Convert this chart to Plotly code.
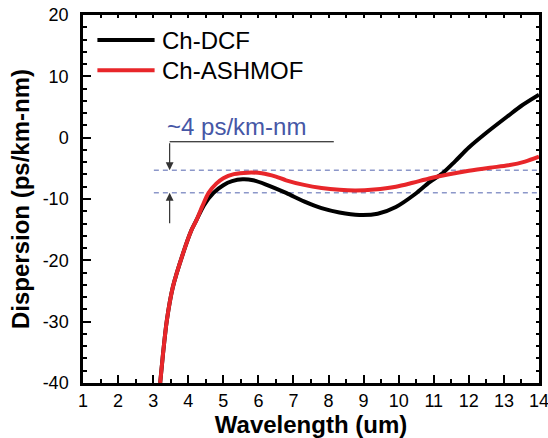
import plotly.graph_objects as go

# ---- data ----
dcf_x = [3.20, 3.28, 3.39, 3.56, 3.85, 4.09, 4.23, 4.45, 4.72, 5.0, 5.25, 5.55, 5.85, 6.2,
         6.79, 7.3, 7.8, 8.31, 8.88, 9.4, 9.92, 10.49, 10.87, 11.25, 11.6, 12.0, 12.5,
         13.13, 13.5, 14.0]
dcf_y = [-40, -35.3, -29.8, -24.4, -18.9, -15.1, -13.5, -11.0, -9.0, -7.75, -7.1, -6.8,
         -6.95, -7.6, -9.0, -10.4, -11.5, -12.2, -12.6, -12.4, -11.3, -9.1, -7.3, -5.8,
         -3.9, -1.6, 0.8, 3.6, 5.2, 7.0]

ashmof_x = [3.20, 3.28, 3.39, 3.56, 3.85, 4.09, 4.23, 4.4, 4.58, 4.8, 5.0, 5.3, 5.7, 6.1,
            6.5, 6.79, 7.3, 7.8, 8.31, 8.78, 9.3, 9.92, 10.4, 10.87, 11.4, 12.0, 12.6,
            13.13, 13.6, 14.0]
ashmof_y = [-40, -35.3, -29.8, -24.4, -18.9, -15.1, -13.5, -11.2, -9.0, -7.5, -6.6, -5.95,
            -5.7, -5.8, -6.35, -6.95, -7.7, -8.2, -8.5, -8.6, -8.45, -8.0, -7.35, -6.65,
            -6.0, -5.4, -4.9, -4.5, -3.9, -3.1]

series_names = ["Ch-DCF", "Ch-ASHMOF"]
band_levels = [-5.3, -9.0]          # dashed reference levels
band_x = [3.02, 14.0]
band_label = "~4 ps/km-nm"

x_ticks = list(range(1, 15))
y_ticks = [-40, -30, -20, -10, 0, 10, 20]
y_ticktext = [str(v) for v in y_ticks]

FONT = "Arial, Liberation Sans, sans-serif"
BLACK = "#000000"
RED = "#e8262a"
BLUE = "#4657a6"
DASH = "#8c97c9"

fig = go.Figure()
fig.add_trace(go.Scatter(x=dcf_x, y=dcf_y, mode="lines", name=series_names[0],
                         line=dict(color=BLACK, width=4, shape="spline", smoothing=0.8),
                         showlegend=False))
fig.add_trace(go.Scatter(x=ashmof_x, y=ashmof_y, mode="lines", name=series_names[1],
                         line=dict(color=RED, width=4, shape="spline", smoothing=0.8),
                         showlegend=False))
# helper trace for the mirrored (top/right) tick axes
fig.add_trace(go.Scatter(x=[], y=[], xaxis="x2", yaxis="y2", showlegend=False,
                         hoverinfo="skip"))

# dashed reference levels
for lv in band_levels:
    fig.add_shape(type="line", xref="x", yref="y", x0=band_x[0], x1=band_x[1], y0=lv, y1=lv,
                  line=dict(color=DASH, width=1.5, dash="5px,4px"), layer="below")

# bracket line + arrows
arrow_x = 3.47
top_y = -0.67
fig.add_shape(type="line", xref="x", yref="y", x0=arrow_x, x1=8.15, y0=top_y, y1=top_y,
              line=dict(color=BLACK, width=1))
fig.add_annotation(x=arrow_x, y=band_levels[0], ax=arrow_x, ay=top_y, xref="x", yref="y",
                   axref="x", ayref="y", text="", showarrow=True, arrowhead=2,
                   arrowsize=1.3, arrowwidth=1.2, arrowcolor="#333333", standoff=0)
fig.add_annotation(x=arrow_x, y=band_levels[1], ax=arrow_x, ay=-14.2, xref="x", yref="y",
                   axref="x", ayref="y", text="", showarrow=True, arrowhead=2,
                   arrowsize=1.3, arrowwidth=1.2, arrowcolor="#333333", standoff=0)
fig.add_annotation(x=5.37, y=1.8, xref="x", yref="y", text=band_label, showarrow=False,
                   font=dict(family=FONT, size=24, color=BLUE), xanchor="center",
                   yanchor="middle")

# manual legend
legend_rows = [(0.932, BLACK), (0.850, RED)]
for (py, col), name in zip(legend_rows, series_names):
    fig.add_shape(type="line", xref="paper", yref="paper", x0=0.0316, x1=0.157, y0=py, y1=py,
                  line=dict(color=col, width=4))
    fig.add_annotation(x=0.168, y=py, xref="paper", yref="paper", text=name,
                       showarrow=False, xanchor="left", yanchor="middle",
                       font=dict(family=FONT, size=24, color=BLACK))

axis_common = dict(showgrid=False, zeroline=False, linecolor=BLACK, linewidth=2.5,
                   ticks="inside", tickcolor=BLACK, tickwidth=2, automargin=False,
                   ticklabeloverflow="allow",
                   tickfont=dict(family=FONT, size=18, color=BLACK))

fig.update_layout(
    template="none",
    width=548, height=438, autosize=False,
    margin=dict(l=83, r=9, t=15, b=55, pad=0),
    paper_bgcolor="white", plot_bgcolor="white",
    font=dict(family=FONT, color=BLACK),
    showlegend=False,
    xaxis=dict(range=[1, 14], tickvals=x_ticks, ticklen=8, mirror=True, showline=True,
               minor=dict(ticks="inside", ticklen=4, dtick=0.5, tickcolor=BLACK, tickwidth=2),
               ticklabelstandoff=0,
               title=dict(text="Wavelength (um)", standoff=1,
                          font=dict(family=FONT, size=24, weight=700, color=BLACK)),
               **axis_common),
    yaxis=dict(range=[-40, 20], tickvals=y_ticks, ticktext=y_ticktext, ticklen=8, mirror=True,
               showline=True,
               minor=dict(ticks="inside", ticklen=4, dtick=2, tickcolor=BLACK, tickwidth=2),
               ticklabelstandoff=8,
               title=dict(text="Dispersion (ps/km-nm)", standoff=7,
                          font=dict(family=FONT, size=24, weight=700, color=BLACK)),
               **axis_common),
    xaxis2=dict(range=[1, 14], overlaying="x", side="top", showticklabels=False,
                ticks="inside", ticklen=3, tickwidth=1.5, tickcolor=BLACK, dtick=0.5,
                tick0=1, showgrid=False, zeroline=False, showline=True, linecolor=BLACK,
                linewidth=2.5, automargin=False),
    yaxis2=dict(range=[-40, 20], overlaying="y", side="right", showticklabels=False,
                ticks="inside", ticklen=3, tickwidth=1.5, tickcolor=BLACK, dtick=2,
                tick0=0, showgrid=False, zeroline=False, showline=True, linecolor=BLACK,
                linewidth=2.5, automargin=False),
)

fig.write_html("out.html", config={"displayModeBar": False},
               post_script="document.body.style.margin='0';document.body.style.padding='0';")
